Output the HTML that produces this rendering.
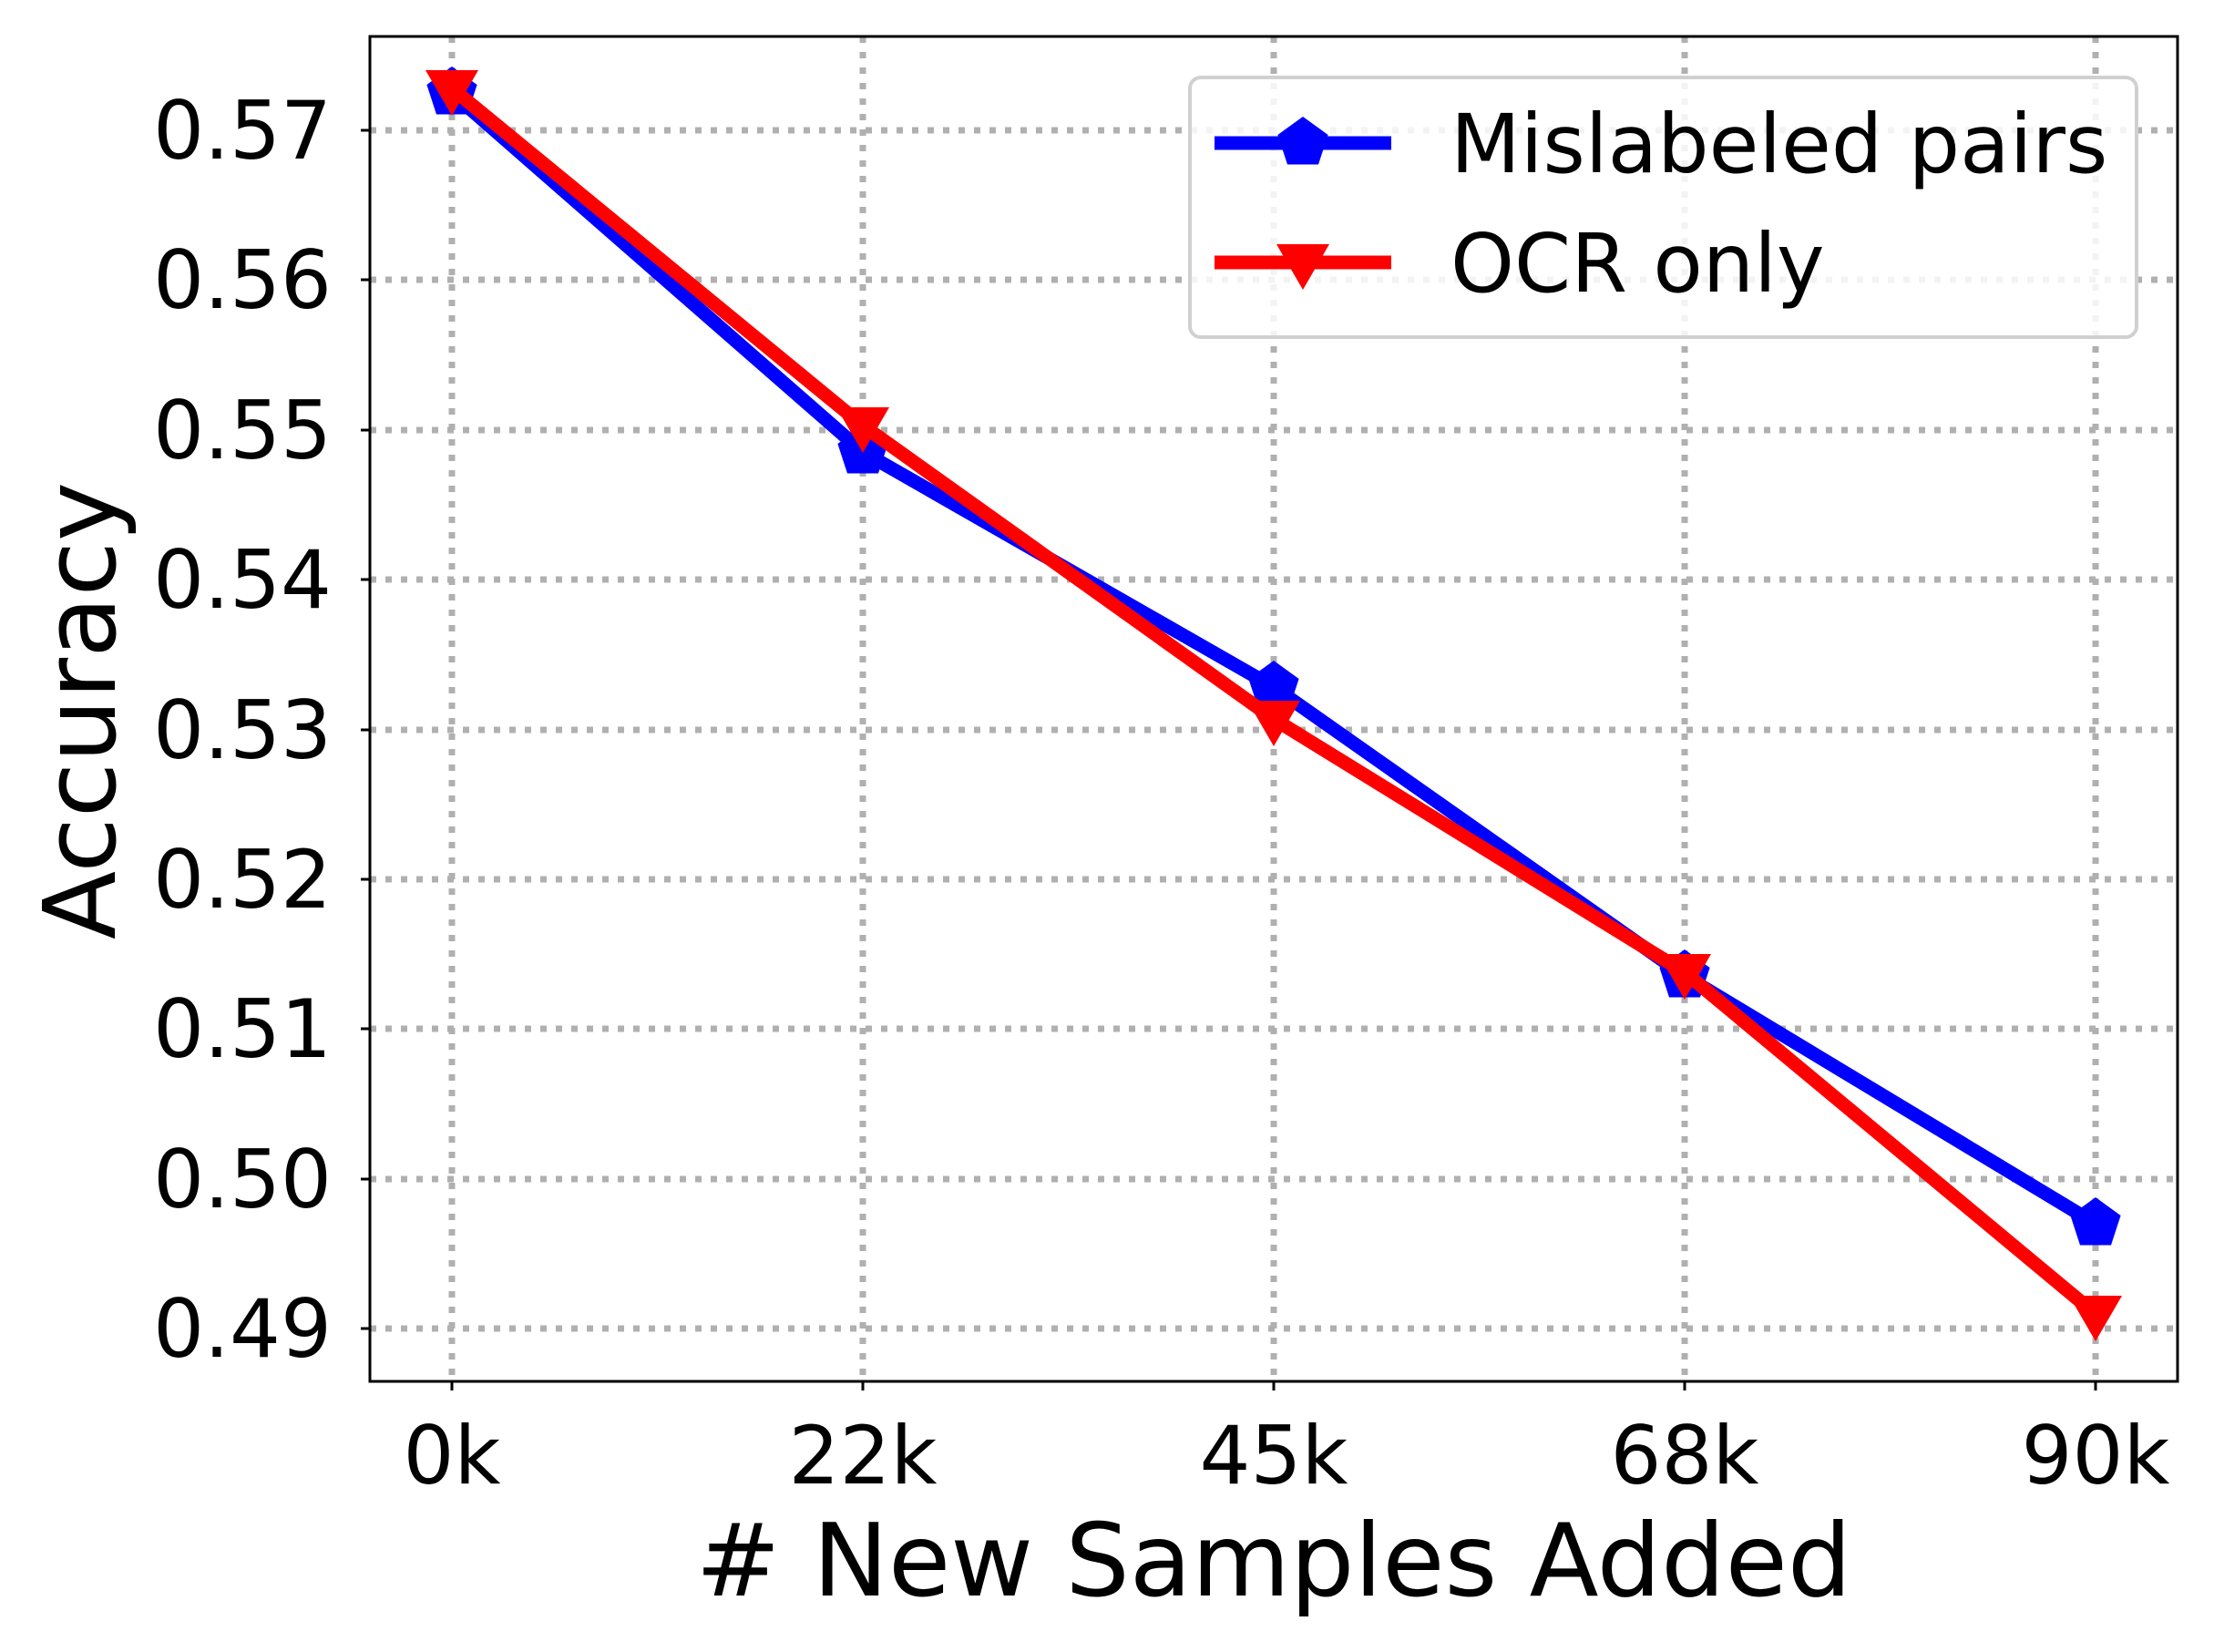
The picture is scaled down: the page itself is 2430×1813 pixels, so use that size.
<!DOCTYPE html>
<html><head><style>html,body{margin:0;padding:0;background:#fff;}svg{display:block;}</style></head>
<body>
<svg width="2430" height="1813" xmlns="http://www.w3.org/2000/svg" font-family="DejaVu Sans, Liberation Sans, sans-serif">
<rect width="2430" height="1813" fill="#fff"/>
<g stroke="#b0b0b0" stroke-width="7" stroke-dasharray="7,10">
<line x1="496" y1="40" x2="496" y2="1516"/><line x1="947" y1="40" x2="947" y2="1516"/><line x1="1398" y1="40" x2="1398" y2="1516"/><line x1="1849" y1="40" x2="1849" y2="1516"/><line x1="2300" y1="40" x2="2300" y2="1516"/>
<line x1="406" y1="143" x2="2390" y2="143"/><line x1="406" y1="307" x2="2390" y2="307"/><line x1="406" y1="472" x2="2390" y2="472"/><line x1="406" y1="636" x2="2390" y2="636"/><line x1="406" y1="801" x2="2390" y2="801"/><line x1="406" y1="965" x2="2390" y2="965"/><line x1="406" y1="1129" x2="2390" y2="1129"/><line x1="406" y1="1294" x2="2390" y2="1294"/><line x1="406" y1="1458" x2="2390" y2="1458"/>
</g>
<polyline points="496,102 947,496 1398,754 1849,1071 2300,1343" fill="none" stroke="#0000ff" stroke-width="15" stroke-linejoin="round"/>
<g fill="#0000ff">
<polygon transform="translate(496,102)" points="0,-29 27.6,-9 17,23.5 -17,23.5 -27.6,-9"/>
<polygon transform="translate(947,496)" points="0,-29 27.6,-9 17,23.5 -17,23.5 -27.6,-9"/>
<polygon transform="translate(1398,754)" points="0,-29 27.6,-9 17,23.5 -17,23.5 -27.6,-9"/>
<polygon transform="translate(1849,1071)" points="0,-29 27.6,-9 17,23.5 -17,23.5 -27.6,-9"/>
<polygon transform="translate(2300,1343)" points="0,-29 27.6,-9 17,23.5 -17,23.5 -27.6,-9"/>
</g>
<polyline points="496,97 947,467 1398,789 1849,1067 2300,1442" fill="none" stroke="#ff0000" stroke-width="15" stroke-linejoin="round"/>
<g fill="#ff0000">
<polygon transform="translate(496,97)" points="-29,-20 29,-20 0,30"/>
<polygon transform="translate(947,467)" points="-29,-20 29,-20 0,30"/>
<polygon transform="translate(1398,789)" points="-29,-20 29,-20 0,30"/>
<polygon transform="translate(1849,1067)" points="-29,-20 29,-20 0,30"/>
<polygon transform="translate(2300,1442)" points="-29,-20 29,-20 0,30"/>
</g>
<rect x="406" y="40" width="1984" height="1476" fill="none" stroke="#000" stroke-width="3"/>
<g stroke="#000" stroke-width="3">
<line x1="396" y1="143" x2="406" y2="143"/><line x1="396" y1="307" x2="406" y2="307"/><line x1="396" y1="472" x2="406" y2="472"/><line x1="396" y1="636" x2="406" y2="636"/><line x1="396" y1="801" x2="406" y2="801"/><line x1="396" y1="965" x2="406" y2="965"/><line x1="396" y1="1129" x2="406" y2="1129"/><line x1="396" y1="1294" x2="406" y2="1294"/><line x1="396" y1="1458" x2="406" y2="1458"/>
<line x1="496" y1="1516" x2="496" y2="1526"/><line x1="947" y1="1516" x2="947" y2="1526"/><line x1="1398" y1="1516" x2="1398" y2="1526"/><line x1="1849" y1="1516" x2="1849" y2="1526"/><line x1="2300" y1="1516" x2="2300" y2="1526"/>
</g>
<g font-size="88" text-anchor="end" fill="#000">
<text x="364" y="174">0.57</text><text x="364" y="338">0.56</text><text x="364" y="503">0.55</text><text x="364" y="667">0.54</text><text x="364" y="832">0.53</text><text x="364" y="996">0.52</text><text x="364" y="1160">0.51</text><text x="364" y="1325">0.50</text><text x="364" y="1489">0.49</text>
</g>
<g font-size="88" text-anchor="middle" fill="#000">
<text x="496" y="1628">0k</text><text x="947" y="1628">22k</text><text x="1398" y="1628">45k</text><text x="1849" y="1628">68k</text><text x="2300" y="1628">90k</text>
</g>
<text x="1398" y="1751" font-size="111" text-anchor="middle">#&#160;New Samples Added</text>
<text transform="translate(126,780) rotate(-90)" font-size="110" text-anchor="middle">Accuracy</text>
<rect x="1306" y="85" width="1039" height="285" rx="12" fill="#fff" fill-opacity="0.85" stroke="#d0d0d0" stroke-width="4"/>
<line x1="1333" y1="157" x2="1527" y2="157" stroke="#0000ff" stroke-width="15"/>
<polygon transform="translate(1430,157)" points="0,-29 27.6,-9 17,23.5 -17,23.5 -27.6,-9" fill="#0000ff"/>
<line x1="1333" y1="288" x2="1527" y2="288" stroke="#ff0000" stroke-width="15"/>
<polygon transform="translate(1430,288)" points="-29,-20 29,-20 0,30" fill="#ff0000"/>
<g font-size="89" fill="#000">
<text x="1592" y="189">Mislabeled pairs</text>
<text x="1592" y="320">OCR only</text>
</g>
</svg>
</body></html>
